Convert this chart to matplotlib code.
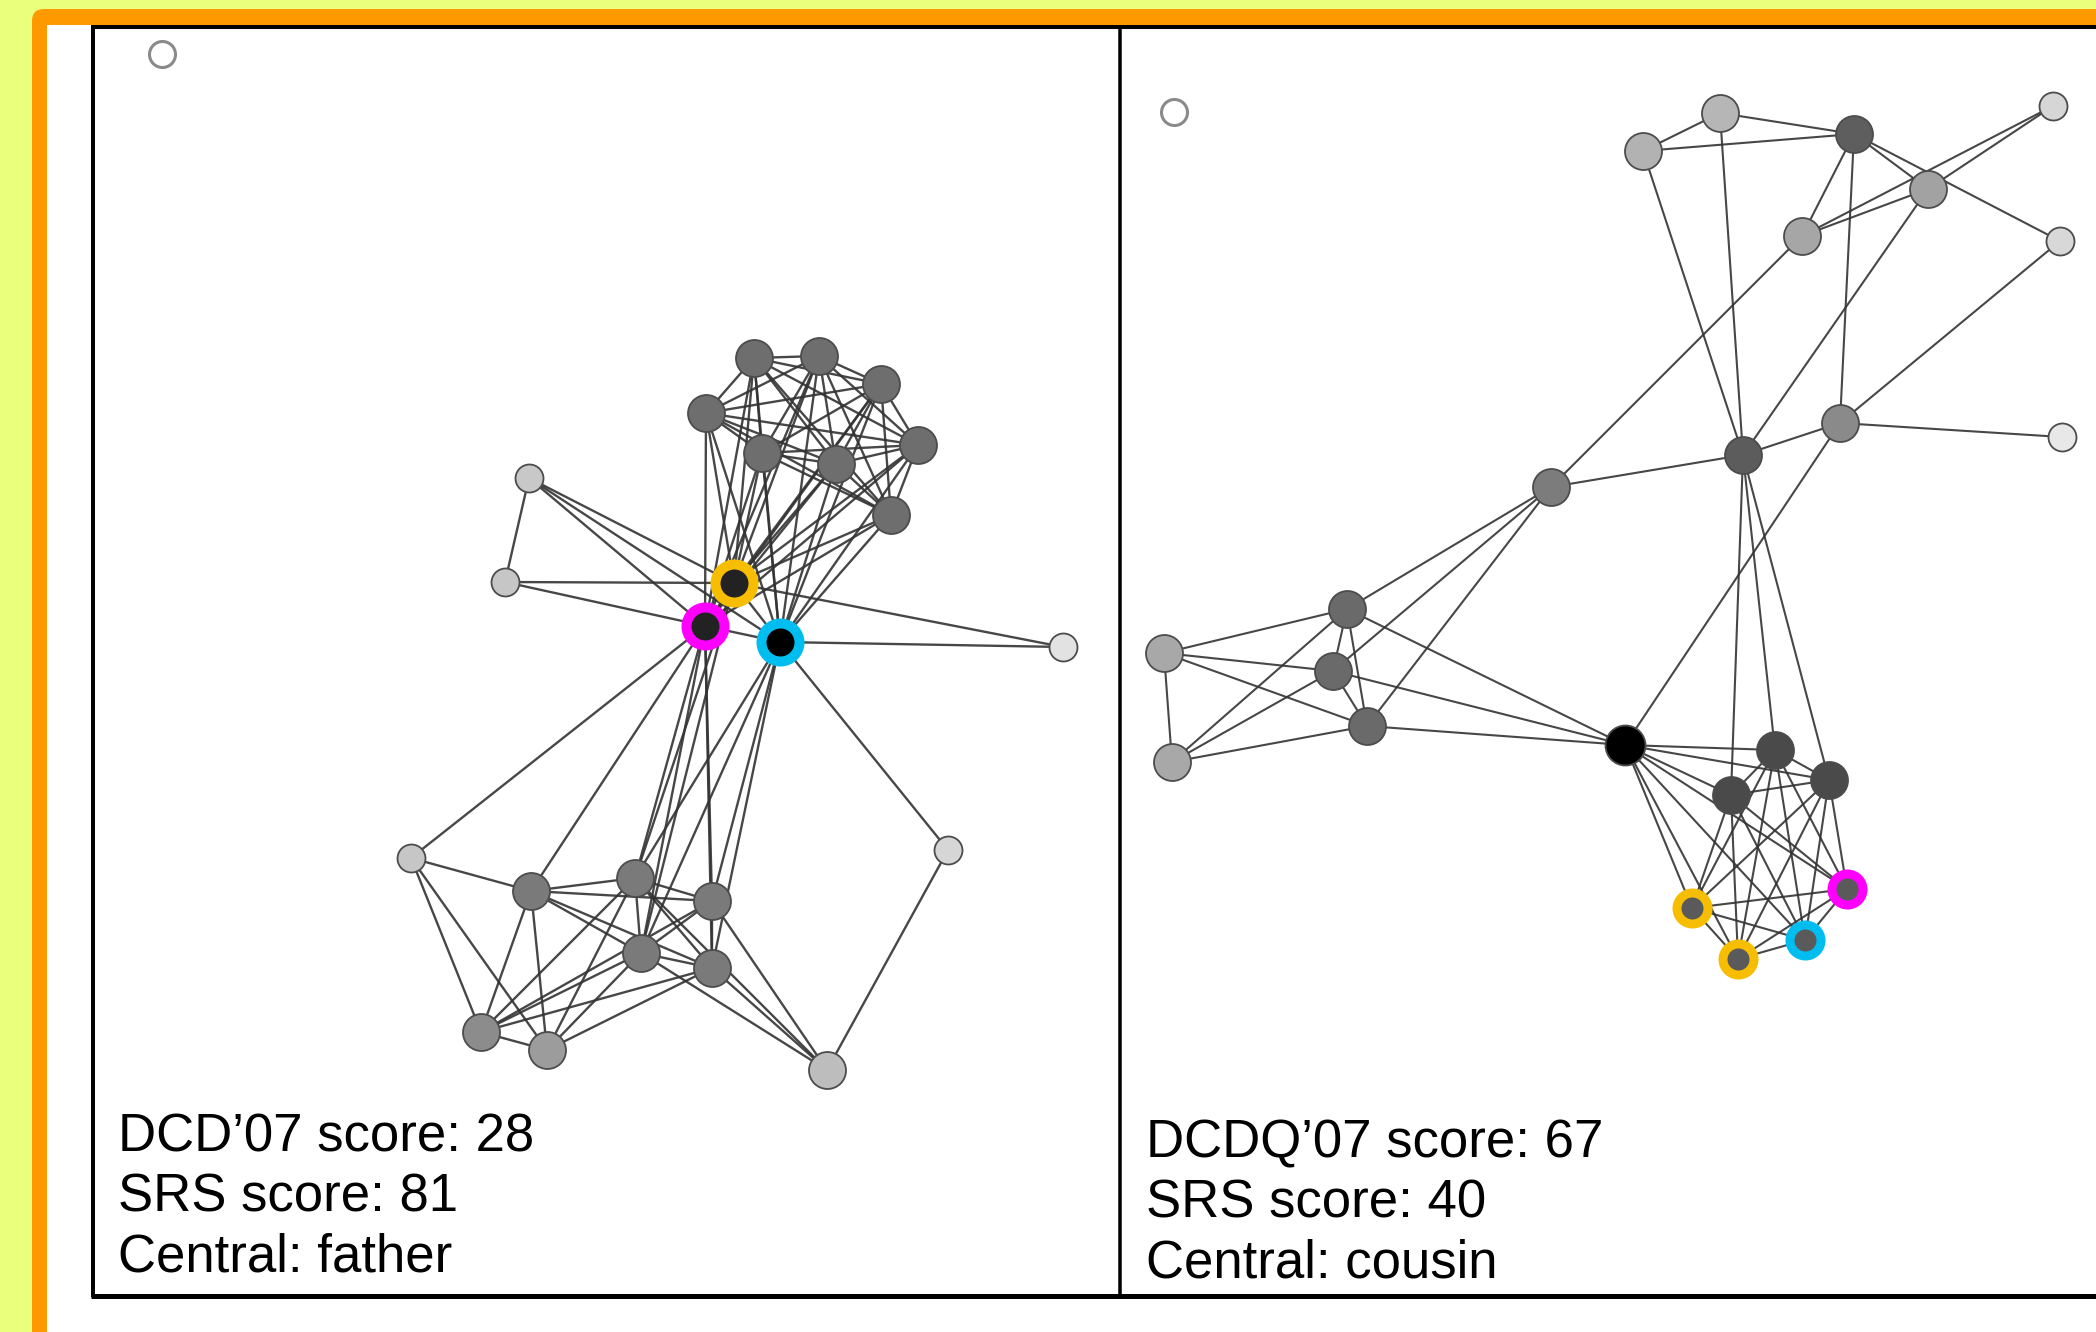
import matplotlib.pyplot as plt
from matplotlib.patches import FancyBboxPatch, Rectangle
from matplotlib.collections import LineCollection

DPI = 100
W, H = 2096, 1332

# ---- left network (father) ----
left_names = ['A1', 'A2', 'A3', 'A4', 'A5', 'A6', 'A7', 'A8',
              'L1', 'L2', 'L3', 'Y', 'M', 'C',
              'L4', 'B1', 'B2', 'B3', 'B4', 'B5', 'B6', 'B7', 'L5', 'L6', 'ISO']
left_x = [754, 819, 881, 706, 762, 836, 918, 891,
          529, 505, 1063, 734, 705, 780,
          411, 531, 635, 712, 641, 712, 481, 547, 827, 948, 162]
left_y = [358, 356, 384, 413, 453, 464, 445, 515,
          478, 582, 647, 583, 626, 642,
          858, 891, 878, 901, 953, 968, 1032, 1050, 1070, 850, 54]
left_shade = ['#6e6e6e'] * 8 + ['#c8c8c8', '#c6c6c6', '#e2e2e2', '#222222', '#222222', '#000000',
              '#c6c6c6', '#7a7a7a', '#7a7a7a', '#7a7a7a', '#7a7a7a', '#7a7a7a', '#8c8c8c', '#9c9c9c',
              '#bdbdbd', '#d6d6d6', '#ffffff']
left_ring = {'Y': '#f7bd00', 'M': '#ff00ff', 'C': '#00bdf0'}

left_edges = """A1-A2 A1-A3 A1-A4 A1-A5 A1-A6 A1-A7 A1-A8 A2-A3 A2-A4 A2-A5 A2-A6 A2-A7 A2-A8
A3-A4 A3-A5 A3-A6 A3-A7 A3-A8 A4-A5 A4-A6 A4-A7 A4-A8 A5-A6 A5-A7 A5-A8 A6-A7 A6-A8 A7-A8
A1-Y A2-Y A3-Y A4-Y A5-Y A6-Y A7-Y A8-Y A1-M A2-M A3-M A4-M A5-M A6-M A7-M A8-M
A1-C A2-C A3-C A4-C A5-C A6-C A7-C A8-C
L1-L2 L1-Y L1-M L1-C L2-Y L2-M L3-Y L3-C C-L6 L6-L5 Y-M Y-C M-C
M-L4 M-B1 M-B2 M-B3 M-B4 M-B5 C-B2 C-B3 C-B4 C-B5 Y-B2 Y-B4
L4-B1 L4-B6 L4-B7 B1-B2 B1-B3 B1-B4 B1-B5 B1-B6 B1-B7 B2-B3 B2-B4 B2-B5 B2-B6 B2-B7
B3-B4 B3-B5 B3-B6 B4-B5 B4-B6 B4-B7 B5-B6 B5-B7 B6-B7 L5-B2 L5-B3 L5-B4 L5-B5""".split()

# ---- right network (cousin) ----
right_names = ['T1', 'T2', 'T3', 'T4', 'T5', 'T6', 'T7', 'T8', 'T9', 'T10', 'M1', 'K',
               'P1', 'P2', 'P3', 'P4', 'P5', 'Q1', 'Q2', 'Q3', 'Y1', 'Y2', 'Cy', 'Mg', 'ISO']
right_x = [1643, 1720, 1854, 1928, 1802, 2053, 2060, 2062, 1840, 1743, 1551, 1625,
           1347, 1333, 1367, 1164, 1172, 1775, 1829, 1731, 1692, 1738, 1805, 1847, 1174]
right_y = [151, 113, 134, 189, 236, 106, 241, 437, 423, 455, 487, 745,
           609, 671, 726, 653, 762, 750, 780, 795, 908, 959, 940, 889, 112]
right_shade = ['#b2b2b2', '#b6b6b6', '#5e5e5e', '#a2a2a2', '#a6a6a6', '#d6d6d6', '#d8d8d8', '#e8e8e8',
               '#8a8a8a', '#5c5c5c', '#7c7c7c', '#000000',
               '#6a6a6a', '#6a6a6a', '#6a6a6a', '#a8a8a8', '#a8a8a8',
               '#4a4a4a', '#4a4a4a', '#4a4a4a', '#5a5a5a', '#5a5a5a', '#5a5a5a', '#5a5a5a', '#ffffff']
right_ring = {'Y1': '#f7bd00', 'Y2': '#f7bd00', 'Cy': '#00bdf0', 'Mg': '#ff00ff'}

right_edges = """T1-T2 T1-T3 T2-T3 T1-T10 T2-T10 T3-T4 T3-T5 T3-T7 T3-T9 T4-T5 T4-T6 T5-T6
T4-T10 T5-M1 T7-T9 T8-T9 T9-T10 T9-K T10-M1 T10-Q1 T10-Q2 T10-Q3 M1-P1 M1-P2 M1-P3
P1-P2 P1-P3 P2-P3 P1-P4 P2-P4 P3-P4 P4-P5 P1-P5 P2-P5 P3-P5 P1-K P2-K P3-K
K-Q1 K-Q2 K-Q3 K-Y1 K-Y2 K-Cy K-Mg Q1-Q2 Q1-Q3 Q2-Q3
Q1-Y1 Q1-Y2 Q1-Cy Q1-Mg Q2-Y1 Q2-Y2 Q2-Cy Q2-Mg Q3-Y1 Q3-Y2 Q3-Cy Q3-Mg
Y1-Y2 Y1-Cy Y1-Mg Y2-Cy Y2-Mg Cy-Mg""".split()

left_text = ['DCD\u201907 score: 28', 'SRS score: 81', 'Central: father']
right_text = ['DCDQ\u201907 score: 67', 'SRS score: 40', 'Central: cousin']


def px2pt(v):
    return v * 72 / DPI


def radius_of(name, shade):
    if name == 'ISO':
        return 13
    if name == 'K':
        return 20
    if shade in ('#c8c8c8', '#c6c6c6', '#e2e2e2', '#d6d6d6', '#d8d8d8', '#e8e8e8'):
        return 14
    return 18.5


def draw_network(ax, names, xs, ys, shades, edges, rings, ring_r, inner_r, lw_edge):
    pos = {n: (x, y) for n, x, y in zip(names, xs, ys)}
    segs = [[pos[a], pos[b]] for a, b in (e.split('-') for e in edges)]
    ax.add_collection(LineCollection(segs, colors='#333333', linewidths=lw_edge, alpha=0.9, zorder=2))
    for n, x, y, c in zip(names, xs, ys, shades):
        if n in rings:
            ax.scatter([x], [y], s=(px2pt(2 * ring_r)) ** 2, c=rings[n], linewidths=0, zorder=3)
            ax.scatter([x], [y], s=(px2pt(2 * inner_r)) ** 2, c=c, linewidths=0, zorder=4)
        else:
            r = radius_of(n, c)
            ec = '#8a8a8a' if n == 'ISO' else '#4c4c4c'
            lw = 2.2 if n == 'ISO' else 1.3
            ax.scatter([x], [y], s=(px2pt(2 * r)) ** 2, c=c, edgecolors=ec, linewidths=lw, zorder=3)


fig = plt.figure(figsize=(W / DPI, H / DPI), dpi=DPI, facecolor='#eaff7c')
ax = fig.add_axes([0, 0, 1, 1])
ax.set_xlim(0, W)
ax.set_ylim(H, 0)
ax.axis('off')

# orange frame + white page
ax.add_patch(FancyBboxPatch((32, 9), 2300, 1500, boxstyle='round,pad=0,rounding_size=12',
                            facecolor='#ff9900', edgecolor='none', zorder=0))
ax.add_patch(Rectangle((47, 25), 2300, 1500, facecolor='white', edgecolor='none', zorder=0))

# black panel frame
ax.plot([93, 93], [27, 1297], color='black', lw=px2pt(4), solid_capstyle='butt', zorder=1)
ax.plot([91, W], [27, 27], color='black', lw=px2pt(4), solid_capstyle='butt', zorder=1)
ax.plot([91, W], [1296, 1296], color='black', lw=px2pt(5), solid_capstyle='butt', zorder=1)
ax.plot([1120, 1120], [27, 1296], color='black', lw=px2pt(3.5), solid_capstyle='butt', zorder=1)

draw_network(ax, left_names, left_x, left_y, left_shade, left_edges, left_ring, 24, 14, 1.7)
draw_network(ax, right_names, right_x, right_y, right_shade, right_edges, right_ring, 20, 11, 1.5)

for i, t in enumerate(left_text):
    ax.text(118, 1152 + i * 60, t, fontsize=38, family='Liberation Sans', va='baseline', zorder=5)
for i, t in enumerate(right_text):
    ax.text(1146, 1157 + i * 60, t, fontsize=38, family='Liberation Sans', va='baseline', zorder=5)

fig.savefig('out.png', dpi=DPI, facecolor=fig.get_facecolor())
